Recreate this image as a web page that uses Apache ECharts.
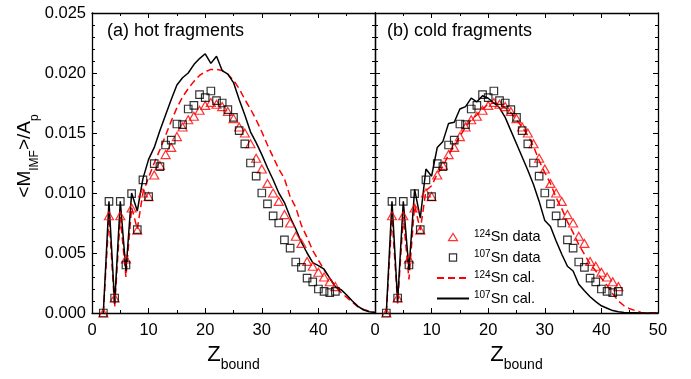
<!DOCTYPE html>
<html><head><meta charset="utf-8">
<script src="https://cdn.jsdelivr.net/npm/echarts@6/dist/echarts.min.js"></script>
<style>html,body{margin:0;padding:0;background:#fff}#c{width:691px;height:379px}</style>
</head><body><div id="c"></div>
<script>
// ---------- data ----------
const zData = [2,3,4,5,6,7,8,9,10,11,12,13,14,15,16,17,18,19,20,21,22,23,24,25,26,27,28,29,30,31,32,33,34,35,36,37,38,39,40,41,42,43];
const sn124Data = [0,0.0081,0.00125,0.0081,0.0045,0.00875,0.0069,0.0100,0.0097,0.0115,0.0123,0.0132,0.0138,0.0147,0.0155,0.0161,0.0164,0.0169,0.0173,0.01755,0.0174,0.0172,0.0168,0.0162,0.0155,0.0150,0.0141,0.0129,0.0120,0.0108,0.0100,0.0093,0.0082,0.0075,0.0064,0.0058,0.0043,0.0039,0.0034,0.0030,0.0026,0.0022];
const sn107Data = [0,0.0093,0.00125,0.0093,0.0040,0.00995,0.00695,0.0111,0.0097,0.01245,0.0122,0.0140,0.0144,0.01575,0.0157,0.0170,0.0173,0.0182,0.01795,0.0185,0.0177,0.0175,0.01695,0.0163,0.0152,0.0141,0.0125,0.0114,0.0100,0.0091,0.0081,0.0075,0.0061,0.0054,0.00425,0.0038,0.0029,0.0026,0.0020,0.0018,0.0017,0.0018];
const zCal = [2,3,4,5,6,7,8,9,10,11,12,13,14,15,16,17,18,19,20,21,22,23,24,25,26,27,28,29,30,31,32,33,34,35,36,37,38,39,40,41,42,43,44,45,46,47,48,49,50];
const hot124Cal = [0,0.0080,0.0005,0.0080,0.0030,0.0088,0.0070,0.0100,0.0113,0.0125,0.0136,0.0148,0.0160,0.0171,0.0180,0.0187,0.0193,0.0198,0.0201,0.0203,0.0203,0.0202,0.0199,0.0194,0.0187,0.0178,0.0170,0.0161,0.0151,0.0140,0.0130,0.0120,0.0112,0.0097,0.0088,0.0073,0.0063,0.0052,0.0044,0.0036,0.0029,0.0022,0.0017,0.0013,0.0009,0.0005,0.0003,0.00015,0.00005];
const hot107Cal = [0,0.0093,0.0008,0.0093,0.0035,0.0100,0.0085,0.0112,0.0128,0.0138,0.0152,0.0165,0.0178,0.0190,0.0196,0.0200,0.0207,0.0212,0.0216,0.0208,0.0214,0.0202,0.0199,0.0192,0.0178,0.0165,0.0151,0.0142,0.0132,0.0121,0.0111,0.0100,0.0092,0.0080,0.0070,0.0059,0.0050,0.0042,0.00395,0.00365,0.0029,0.0022,0.00195,0.0015,0.0010,0.00055,0.00025,0.0001,0.00005];
const cold124Cal = [0,0.0080,0.0008,0.0080,0.0028,0.0090,0.0069,0.0102,0.0106,0.0116,0.0122,0.0132,0.0139,0.0147,0.0155,0.0161,0.0165,0.0170,0.0174,0.0175,0.0174,0.0171,0.0167,0.0161,0.0155,0.0148,0.0139,0.0127,0.0117,0.0108,0.0096,0.0087,0.0076,0.0067,0.0057,0.0049,0.0041,0.0035,0.0029,0.0023,0.0016,0.0010,0.0006,0.00035,0.0002,0.00005,0.00002,0,0];
const cold107Cal = [0,0.0093,0.0010,0.0093,0.0036,0.0103,0.0079,0.0120,0.0114,0.0138,0.0143,0.0158,0.0159,0.0170,0.0172,0.0179,0.0176,0.0181,0.0179,0.0175,0.0171,0.0163,0.0152,0.0141,0.0130,0.0119,0.0107,0.0093,0.0077,0.0072,0.0060,0.0049,0.0039,0.0035,0.0024,0.00185,0.00135,0.00095,0.0006,0.0004,0.0002,0.0001,0.00005,0.00003,0.00002,0.00001,0.00001,0,0];
const xMin = 0, xMax = 50, xStep = 10;
const yMin = 0, yMax = 0.025, yStep = 0.005;
const panelTitles = ['(a) hot fragments', '(b) cold fragments'];
const seriesNames = ['124Sn data', '107Sn data', '124Sn cal.', '107Sn cal.'];

// ---------- chart ----------
const FONT = '"Liberation Sans", Arial, sans-serif';
const zip = (xs, ys) => xs.map((x, i) => [x, ys[i]]);
const axisLine = { show: true, onZero: false, lineStyle: { color: '#000', width: 1.3 } };
const tick = { show: true, inside: true, length: 5, lineStyle: { color: '#000', width: 1 } };
const minor = n => ({ show: true, splitNumber: n, length: 3, lineStyle: { color: '#000', width: 1 } });

function xAxis(grid, pos, labels, hideMax) {
  return {
    type: 'value', gridIndex: grid, position: pos, min: xMin, max: xMax, interval: xStep,
    axisLine, axisTick: tick, minorTick: minor(2), splitLine: { show: false },
    axisLabel: { show: labels, showMaxLabel: !hideMax, margin: 9, fontSize: 16.5, color: '#000', fontFamily: FONT },
    name: labels ? '{z|Z}{s|bound}' : '', nameLocation: 'middle', nameGap: 24,
    nameTextStyle: { color: '#000', fontFamily: FONT,
      rich: { z: { fontSize: 22, fontFamily: FONT, color: '#000' },
              s: { fontSize: 14, fontFamily: FONT, color: '#000', padding: [21, 0, 0, 0] } } }
  };
}
function yAxis(grid, pos, labels) {
  return {
    type: 'value', gridIndex: grid, position: pos, min: yMin, max: yMax, interval: yStep,
    axisLine, axisTick: tick, minorTick: minor(5), splitLine: { show: false },
    axisLabel: { show: labels, margin: 6, fontSize: 16.5, color: '#000', fontFamily: FONT,
      formatter: v => v.toFixed(3) },
    name: labels ? '{m|<M}{s|IMF}{m|>/A}{s|p}' : '', nameLocation: 'middle', nameRotate: 90, nameGap: 47,
    nameTextStyle: { color: '#000', fontFamily: FONT, padding: [0, 0, 0, 14],
      rich: { m: { fontSize: 19, fontFamily: FONT, color: '#000' },
              s: { fontSize: 12, fontFamily: FONT, color: '#000', padding: [21, 0, 0, 0] } } }
  };
}

function panelSeries(k, c124, c107) {
  return [
    { type: 'line', name: seriesNames[2], xAxisIndex: 2 * k, yAxisIndex: 2 * k, data: zip(zCal, c124),
      symbol: 'none', showSymbol: false, lineStyle: { color: '#ff0000', width: 1.5, type: [7, 4] },
      itemStyle: { color: '#ff0000' }, z: 2 },
    { type: 'line', name: seriesNames[3], xAxisIndex: 2 * k, yAxisIndex: 2 * k, data: zip(zCal, c107),
      symbol: 'none', showSymbol: false, lineStyle: { color: '#000', width: 1.5 },
      itemStyle: { color: '#000' }, z: 2 },
    { type: 'scatter', name: seriesNames[0], xAxisIndex: 2 * k, yAxisIndex: 2 * k, data: zip(zData, sn124Data),
      symbol: 'triangle', symbolSize: [9, 8],
      itemStyle: { color: 'transparent', borderColor: '#ff0000', borderWidth: 1.2 }, z: 3 },
    { type: 'scatter', name: seriesNames[1], xAxisIndex: 2 * k, yAxisIndex: 2 * k, data: zip(zData, sn107Data),
      symbol: 'rect', symbolSize: 7.5,
      itemStyle: { color: 'transparent', borderColor: '#000', borderWidth: 1.2 }, z: 3 }
  ];
}

// legend icon shapes: invisible corner points keep the path's box equal to the legend item box
const triIcon = 'path://M0,0M32,8M11.5,7.6L16,0.4L20.5,7.6Z';
const rectIcon = 'path://M0,0M32,8M12.4,0.4L19.6,0.4L19.6,7.6L12.4,7.6Z';
const hidden = { color: 'transparent', borderColor: 'transparent', borderWidth: 0, opacity: 0 };
const chart = echarts.init(document.getElementById('c'), null, { renderer: 'canvas' });
chart.setOption({
  animation: false,
  backgroundColor: '#fff',
  textStyle: { fontFamily: FONT },
  title: panelTitles.map((t, i) => ({
    text: t, left: i === 0 ? 107 : 387, top: 22, padding: 0,
    textStyle: { fontSize: 18, fontWeight: 'normal', color: '#000', fontFamily: FONT }
  })),
  legend: {
    data: [
      { name: seriesNames[0], icon: triIcon },
      { name: seriesNames[1], icon: rectIcon },
      { name: seriesNames[2], itemStyle: hidden },
      { name: seriesNames[3], itemStyle: hidden }
    ],
    orient: 'vertical', left: 436, top: 229, padding: 0,
    itemWidth: 32, itemHeight: 8, itemGap: 5,
    itemStyle: { borderWidth: 1.2 },
    formatter: n => n.replace(/^(\d+)/, '{sup|$1}'),
    textStyle: { fontSize: 14.5, color: '#000', fontFamily: FONT,
      rich: { sup: { fontSize: 10, color: '#000', fontFamily: FONT, padding: [0, 0, 6, 0] } } }
  },
  grid: [
    { left: 92, top: 13, width: 283, height: 300 },
    { left: 375, top: 13, width: 283, height: 300 }
  ],
  xAxis: [xAxis(0, 'bottom', true, true), xAxis(0, 'top', false), xAxis(1, 'bottom', true, false), xAxis(1, 'top', false)],
  yAxis: [yAxis(0, 'left', true), yAxis(0, 'right', false), yAxis(1, 'left', false), yAxis(1, 'right', false)],
  series: [...panelSeries(0, hot124Cal, hot107Cal), ...panelSeries(1, cold124Cal, cold107Cal)]
});
</script></body></html>
